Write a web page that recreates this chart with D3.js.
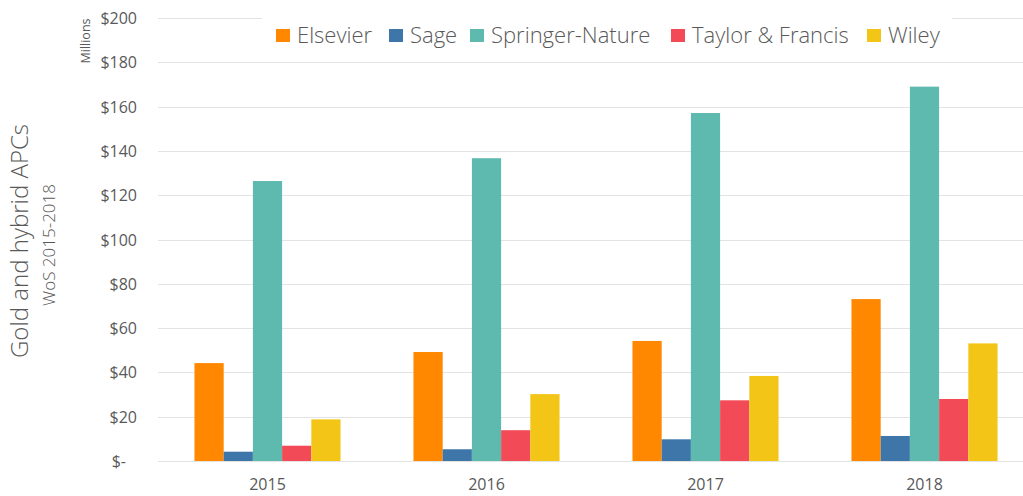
<!DOCTYPE html>
<html>
<head>
<meta charset="utf-8">
<script src="https://cdn.jsdelivr.net/npm/d3@7"></script>
<style>
  body { margin: 0; background: #fff; }
  text { font-family: "Open Sans", sans-serif; fill: #595959; }
</style>
</head>
<body>
<div id="chart-area"></div>
<script>
// data (millions USD)
var years = ["2015", "2016", "2017", "2018"];
var publishers = ["Elsevier", "Sage", "Springer-Nature", "Taylor & Francis", "Wiley"];
var elsevier = [44.2, 49.2, 54.2, 73.1];
var sage = [4.2, 5.3, 9.8, 11.3];
var springer = [126.4, 136.7, 157.1, 169.0];
var taylor = [6.9, 13.9, 27.4, 28.0];
var wiley = [18.8, 30.2, 38.4, 53.1];
var colors = ["#FF8800", "#3F76A9", "#5EB9AF", "#F24B57", "#F3C517"];
var yTicks = [0, 20, 40, 60, 80, 100, 120, 140, 160, 180, 200];

var series = [elsevier, sage, springer, taylor, wiley];

var width = 1023, height = 496;
var margin = {top: 18, right: -11, bottom: 35, left: 158};

var svg = d3.select("#chart-area").append("svg")
    .attr("width", width)
    .attr("height", height);

var xScale = d3.scaleBand()
    .domain(years)
    .range([margin.left, width - margin.right])
    .paddingInner(0)
    .paddingOuter(0);

var xInner = d3.scaleBand()
    .domain(publishers)
    .range([0, xScale.bandwidth() * 0.667]);

var yScale = d3.scaleLinear()
    .domain([0, 200])
    .range([height - margin.bottom, margin.top]);

// gridlines
svg.append("g").selectAll("line")
    .data(yTicks)
    .enter().append("line")
    .attr("x1", margin.left)
    .attr("x2", width)
    .attr("y1", d => Math.round(yScale(d)) + 0.5)
    .attr("y2", d => Math.round(yScale(d)) + 0.5)
    .attr("stroke", "#e3e3e3")
    .attr("stroke-width", 1);

// y labels
svg.append("g").selectAll("text")
    .data(yTicks)
    .enter().append("text")
    .attr("x", d => d === 0 ? 126 : 137)
    .attr("y", d => yScale(d) + 6)
    .attr("text-anchor", "end")
    .style("font-size", "16px")
    .text(d => d === 0 ? "$-" : "$" + d);

// bars
var groups = svg.append("g").selectAll("g")
    .data(years)
    .enter().append("g")
    .attr("transform", d => "translate(" + (xScale(d) + xScale.bandwidth() * 0.1665) + ",0)");

groups.selectAll("rect")
    .data((d, i) => publishers.map((p, j) => ({pub: p, j: j, value: series[j][i]})))
    .enter().append("rect")
    .attr("x", d => xInner(d.pub))
    .attr("width", xInner.bandwidth())
    .attr("y", d => yScale(d.value))
    .attr("height", d => yScale(0) - yScale(d.value))
    .attr("fill", d => colors[d.j]);

// x labels
svg.append("g").selectAll("text")
    .data(years)
    .enter().append("text")
    .attr("x", d => xScale(d) + xScale.bandwidth() / 2)
    .attr("y", 490)
    .attr("text-anchor", "middle")
    .style("font-size", "16px")
    .text(d => d);

// legend (white box hides the top gridline)
svg.append("rect")
    .attr("x", 262).attr("y", 8)
    .attr("width", 690).attr("height", 46)
    .attr("fill", "#fff");

var legendX = [276, 389, 470, 671, 867];
var legend = svg.append("g").selectAll("g")
    .data(publishers)
    .enter().append("g")
    .attr("transform", (d, i) => "translate(" + legendX[i] + ",29)");

legend.append("rect")
    .attr("width", 14).attr("height", 13)
    .attr("fill", (d, i) => colors[i]);

legend.append("text")
    .attr("x", 21)
    .attr("y", 13.5)
    .style("font-size", "22px")
    .style("font-weight", 300)
    .text(d => d);

// axis titles
svg.append("text")
    .attr("transform", "translate(90,41) rotate(-90)")
    .attr("text-anchor", "middle")
    .style("font-size", "12.5px")
    .text("Millions");

svg.append("text")
    .attr("transform", "translate(28,241) rotate(-90)")
    .attr("text-anchor", "middle")
    .style("font-size", "24px")
    .style("font-weight", 300)
    .text("Gold and hybrid APCs");

svg.append("text")
    .attr("transform", "translate(55,245) rotate(-90)")
    .attr("text-anchor", "middle")
    .style("font-size", "17px")
    .style("font-weight", 300)
    .text("WoS 2015-2018");
</script>
</body>
</html>
